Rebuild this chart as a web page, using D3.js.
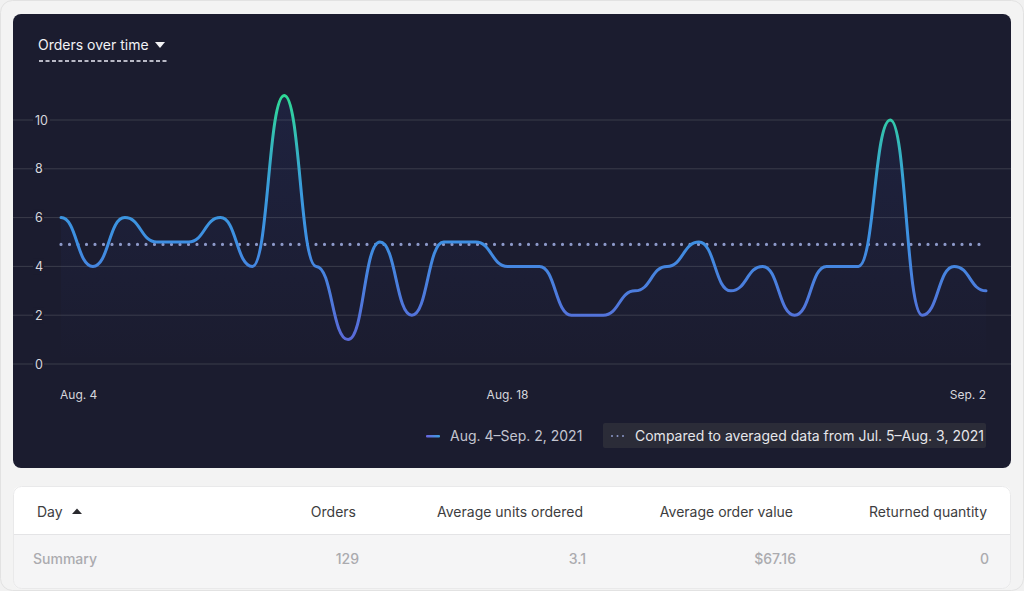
<!DOCTYPE html>
<html><head><meta charset="utf-8">
<script src="https://cdn.jsdelivr.net/npm/d3@7"></script>
<style>
html,body{margin:0;padding:0;background:#f1f1f1;font-family:Inter,"Noto Sans",sans-serif;}
svg{display:block}
</style></head><body>
<svg id="c" width="1024" height="591"></svg>
<script>
const days = ["Aug. 4","Aug. 5","Aug. 6","Aug. 7","Aug. 8","Aug. 9","Aug. 10","Aug. 11","Aug. 12","Aug. 13","Aug. 14","Aug. 15","Aug. 16","Aug. 17","Aug. 18","Aug. 19","Aug. 20","Aug. 21","Aug. 22","Aug. 23","Aug. 24","Aug. 25","Aug. 26","Aug. 27","Aug. 28","Aug. 29","Aug. 30","Aug. 31","Sep. 1","Sep. 2"];
const orders = [6,4,6,5,5,6,4,11,4,1,5,2,5,5,4,4,2,2,3,4,5,3,4,2,4,4,10,2,4,3];
const comparisonAvg = 4.9;
const yTicks = [0,2,4,6,8,10];
const xTickLabels = ["Aug. 4","Aug. 18","Sep. 2"];
const tableHeaders = ["Day","Orders","Average units ordered","Average order value","Returned quantity"];
const summaryRow = ["Summary","129","3.1","$67.16","0"];
const legendMain = "Aug. 4–Sep. 2, 2021";
const legendCompare = "Compared to averaged data from Jul. 5–Aug. 3, 2021";
const title = "Orders over time";

const svg = d3.select("#c");
const defs = svg.append("defs");

// outer panel
svg.append("rect").attr("x",0.5).attr("y",0.5).attr("width",1023).attr("height",590).attr("rx",12)
  .attr("fill","#f3f3f3").attr("stroke","#e2e2e2");
// dark card
svg.append("rect").attr("x",13).attr("y",14).attr("width",998).attr("height",454).attr("rx",8)
  .attr("fill","#1b1c2f");

const x = d3.scalePoint().domain(days).range([61,986]);
const y = d3.scaleLinear().domain([0,10]).range([364,120]);

// gridlines
const grid = svg.append("g");
grid.selectAll("line").data(yTicks).join("line")
  .attr("x1",13).attr("x2",1011).attr("y1",d=>y(d)).attr("y2",d=>y(d))
  .attr("stroke","#3b3c4a").attr("stroke-width",1);
// y labels
const yl = svg.append("g");
yl.selectAll("rect").data(yTicks).join("rect")
  .attr("x",33).attr("y",d=>y(d)-8).attr("width",d=>d>=10?17:11).attr("height",16).attr("fill","#1b1c2f");
yl.selectAll("text").data(yTicks).join("text")
  .attr("x",35).attr("y",d=>y(d)+4.5).attr("fill","#d6d6dc").attr("font-size",12.5).text(d=>d);

// gradients
const lg = defs.append("linearGradient").attr("id","lineGrad").attr("gradientUnits","userSpaceOnUse")
  .attr("x1",0).attr("x2",0).attr("y1",y(1)).attr("y2",y(11));
lg.append("stop").attr("offset","0%").attr("stop-color","#5a6ad8");
lg.append("stop").attr("offset","40%").attr("stop-color","#3e8fe2");
lg.append("stop").attr("offset","62%").attr("stop-color","#3a9bdc");
lg.append("stop").attr("offset","100%").attr("stop-color","#2fd996");
const ag = defs.append("linearGradient").attr("id","areaGrad").attr("gradientUnits","userSpaceOnUse")
  .attr("x1",0).attr("x2",0).attr("y1",y(11)).attr("y2",y(0));
ag.append("stop").attr("offset","0%").attr("stop-color","#3a5ad0").attr("stop-opacity",0.1);
ag.append("stop").attr("offset","100%").attr("stop-color","#3a5ad0").attr("stop-opacity",0);

const area = d3.area().x((d,i)=>x(days[i])).y0(y(0)).y1(d=>y(d)).curve(d3.curveBumpX);
svg.append("path").datum(orders).attr("d",area).attr("fill","url(#areaGrad)");

// comparison dotted line
svg.append("line").attr("x1",x(days[0])).attr("x2",x(days[days.length-1]))
  .attr("y1",y(comparisonAvg)).attr("y2",y(comparisonAvg))
  .attr("stroke","#8c98c8").attr("stroke-width",3.2).attr("stroke-linecap","round")
  .attr("stroke-dasharray","0 8.5");

const line = d3.line().x((d,i)=>x(days[i])).y(d=>y(d)).curve(d3.curveBumpX);
svg.append("path").datum(orders).attr("d",line).attr("fill","none")
  .attr("stroke","url(#lineGrad)").attr("stroke-width",3).attr("stroke-linecap","round");

// x labels
svg.append("g").selectAll("text").data(xTickLabels).join("text")
  .attr("x",d=>x(d)).attr("y",399)
  .attr("text-anchor",(d,i)=>i===0?"start":(i===xTickLabels.length-1?"end":"middle"))
  .attr("dx",(d,i)=>i===0?-1:0)
  .attr("fill","#d6d6dc").attr("font-size",12).text(d=>d);

// title
svg.append("text").attr("x",38).attr("y",50).attr("fill","#f2f2f5").attr("font-size",14).text(title);
svg.append("path").attr("d","M155,42 L165,42 L160,48 Z").attr("fill","#f2f2f5");
svg.append("line").attr("x1",39).attr("x2",167).attr("y1",61).attr("y2",61)
  .attr("stroke","#b9b9c6").attr("stroke-width",1.8).attr("stroke-dasharray","4 2.5");

// legend
const lgg = defs.append("linearGradient").attr("id","legGrad");
lgg.append("stop").attr("offset","0%").attr("stop-color","#6a63e0");
lgg.append("stop").attr("offset","100%").attr("stop-color","#3aa0e0");
svg.append("rect").attr("x",426).attr("y",435).attr("width",14).attr("height",2.4).attr("rx",1).attr("fill","url(#legGrad)");
svg.append("text").attr("x",450).attr("y",441).attr("fill","#c4c5cf").attr("font-size",14).text(legendMain);
svg.append("rect").attr("x",603).attr("y",423).attr("width",383).attr("height",25).attr("rx",2).attr("fill","#2b2c38");
svg.append("line").attr("x1",612).attr("x2",626).attr("y1",436).attr("y2",436)
  .attr("stroke","#8c98c8").attr("stroke-width",2).attr("stroke-linecap","round").attr("stroke-dasharray","0 5.5");
svg.append("text").attr("x",635).attr("y",441).attr("fill","#e6e6ea").attr("font-size",14).text(legendCompare);

// table card
defs.append("clipPath").attr("id","tclip").append("rect").attr("x",13).attr("y",486).attr("width",998).attr("height",103).attr("rx",8);
const tg = svg.append("g").attr("clip-path","url(#tclip)");
tg.append("rect").attr("x",13).attr("y",486).attr("width",998).attr("height",103).attr("fill","#ffffff");
tg.append("rect").attr("x",13).attr("y",535).attr("width",998).attr("height",54).attr("fill","#f5f5f6");
tg.append("line").attr("x1",13).attr("x2",1011).attr("y1",534.5).attr("y2",534.5).attr("stroke","#e4e4e6");
svg.append("rect").attr("x",13.5).attr("y",486.5).attr("width",997).attr("height",102).attr("rx",8)
  .attr("fill","none").attr("stroke","#e9e9ea");

const headX = [37,356,583,793,987];
const sumX = [33,359,586,796,989];
svg.append("g").selectAll("text").data(tableHeaders).join("text")
  .attr("x",(d,i)=>headX[i]).attr("y",517).attr("text-anchor",(d,i)=>i===0?"start":"end")
  .attr("fill","#3d3d40").attr("font-size",14).text(d=>d);
svg.append("path").attr("d","M72,514 L82,514 L77,508.5 Z").attr("fill","#2a2a2e");
svg.append("g").selectAll("text").data(summaryRow).join("text")
  .attr("x",(d,i)=>sumX[i]).attr("y",564).attr("text-anchor",(d,i)=>i===0?"start":"end")
  .attr("fill","#ababaf").attr("font-size",14).attr("font-weight",500).text(d=>d);
</script>
</body></html>
